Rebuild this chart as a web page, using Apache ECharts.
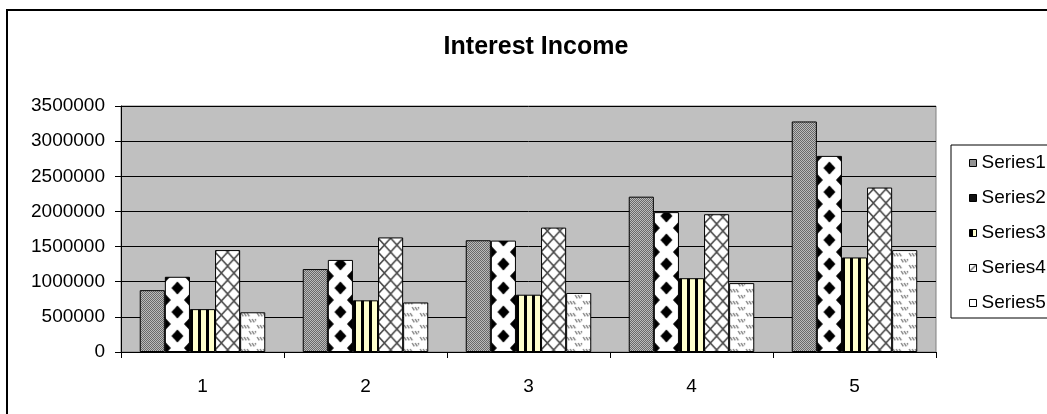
<!DOCTYPE html>
<html>
<head>
<meta charset="utf-8">
<style>
  html, body { margin: 0; padding: 0; background: #ffffff; }
  #chart { width: 1047px; height: 414px; }
</style>
<script src="https://cdn.jsdelivr.net/npm/echarts@6/dist/echarts.min.js"></script>
</head>
<body>
<div id="chart"></div>
<script>
// Interest income per period, five series
const categories = ['1', '2', '3', '4', '5'];
const seriesNames = ['Series1', 'Series2', 'Series3', 'Series4', 'Series5'];
const series1 = [880000, 1180000, 1590000, 2210000, 3280000];
const series2 = [1070000, 1310000, 1585000, 1990000, 2790000];
const series3 = [610000, 735000, 815000, 1050000, 1345000];
const series4 = [1450000, 1630000, 1770000, 1960000, 2340000];
const series5 = [565000, 705000, 840000, 980000, 1450000];
const yTicks = [0, 500000, 1000000, 1500000, 2000000, 2500000, 3000000, 3500000];

const FONT = 'Liberation Sans, Arial, sans-serif';

// Fill patterns drawn on small tiles
function tileCanvas(w, h, draw) {
  const c = document.createElement('canvas');
  c.width = w; c.height = h;
  draw(c.getContext('2d'), w, h);
  return c;
}

// fine grey dither
const tDither = tileCanvas(4, 4, (ctx) => {
  ctx.fillStyle = '#e4e4e4'; ctx.fillRect(0, 0, 4, 4);
  ctx.fillStyle = '#404040';
  for (let y = 0; y < 4; y++) for (let x = 0; x < 4; x++)
    if ((x + y) % 2 === 0) ctx.fillRect(x, y, 1, 1);
});

// black diamonds on white: one column centred, half columns on the edges
const tDiamond = tileCanvas(26, 24, (ctx, w, h) => {
  ctx.fillStyle = '#ffffff'; ctx.fillRect(0, 0, w, h);
  ctx.fillStyle = '#000000';
  const rx = 6.2, ry = 6.4;
  [[13, 0], [13, 24], [0, 12], [26, 12]].forEach(([cx, cy]) => {
    ctx.beginPath();
    ctx.moveTo(cx, cy - ry); ctx.lineTo(cx + rx, cy);
    ctx.lineTo(cx, cy + ry); ctx.lineTo(cx - rx, cy);
    ctx.closePath(); ctx.fill();
  });
});

// black vertical stripes on pale yellow
const tStripe = tileCanvas(8, 8, (ctx) => {
  ctx.fillStyle = '#ffffcc'; ctx.fillRect(0, 0, 8, 8);
  ctx.fillStyle = '#000000'; ctx.fillRect(0, 0, 3, 8);
});

// grey diagonal lattice on white
const tLattice = tileCanvas(13, 14, (ctx, w, h) => {
  ctx.fillStyle = '#ffffff'; ctx.fillRect(0, 0, w, h);
  ctx.strokeStyle = '#4a4a4a'; ctx.lineWidth = 1.6;
  ctx.beginPath();
  ctx.moveTo(0, 0); ctx.lineTo(w, h);
  ctx.moveTo(w, 0); ctx.lineTo(0, h);
  ctx.stroke();
});

// short grey dashes on white
const tDash = tileCanvas(16, 12, (ctx, w, h) => {
  ctx.fillStyle = '#ffffff'; ctx.fillRect(0, 0, w, h);
  ctx.strokeStyle = '#7a7a7a'; ctx.lineWidth = 1.3;
  ctx.beginPath();
  [[1, 1], [4, 1], [7, 1], [9, 7], [12, 7], [15, 7]].forEach(([x, y]) => {
    ctx.moveTo(x, y); ctx.lineTo(x + 2.2, y + 3.4);
  });
  ctx.stroke();
});

// single diagonal for the small legend swatch
const tSlash = tileCanvas(7, 7, (ctx, w, h) => {
  ctx.fillStyle = '#ffffff'; ctx.fillRect(0, 0, w, h);
  ctx.strokeStyle = '#444'; ctx.lineWidth = 1.2;
  ctx.beginPath(); ctx.moveTo(0, h); ctx.lineTo(w, 0); ctx.stroke();
});

const tiles = [tDither, tDiamond, tStripe, tLattice, tDash];
const values = [series1, series2, series3, series4, series5];
const pat = (img, extra) => Object.assign({ image: img, repeat: 'repeat' }, extra || {});

const legendSwatches = [
  pat(tDither),
  '#111111',
  { type: 'linear', x: 0, y: 0, x2: 1, y2: 0, colorStops: [
    { offset: 0, color: '#000' }, { offset: 0.5, color: '#000' },
    { offset: 0.5, color: '#ffffcc' }, { offset: 1, color: '#ffffcc' }] },
  pat(tSlash),
  '#ffffff'
];

const chart = echarts.init(document.getElementById('chart'), null, { renderer: 'canvas' });

chart.setOption({
  animation: false,
  backgroundColor: '#ffffff',
  title: {
    text: 'Interest Income',
    left: 531,
    textAlign: 'center',
    top: 30,
    textStyle: { fontFamily: FONT, fontSize: 25, fontWeight: 'bold', color: '#000' }
  },
  legend: {
    orient: 'vertical',
    left: 951,
    top: 145,
    width: 120,
    padding: [8, 40, 5, 18],
    itemGap: 15,
    itemWidth: 7,
    itemHeight: 7,
    icon: 'rect',
    borderColor: '#000',
    borderWidth: 1,
    backgroundColor: '#ffffff',
    textStyle: { fontFamily: FONT, fontSize: 19, color: '#000', lineHeight: 20 },
    data: seriesNames.map((n, i) => ({ name: n, itemStyle: { color: legendSwatches[i], borderColor: '#000', borderWidth: 1 } }))
  },
  grid: {
    left: 121, right: 111, top: 106, bottom: 62,
    show: true,
    backgroundColor: '#c0c0c0',
    borderColor: '#808080',
    borderWidth: 1
  },
  xAxis: {
    type: 'category',
    data: categories,
    boundaryGap: true,
    axisLine: { lineStyle: { color: '#000', width: 1 } },
    axisTick: { show: true, alignWithLabel: false, length: 6, lineStyle: { color: '#000' } },
    axisLabel: { margin: 25, fontFamily: FONT, fontSize: 19, color: '#000' },
    splitLine: { show: false }
  },
  yAxis: {
    type: 'value',
    min: yTicks[0],
    max: yTicks[yTicks.length - 1],
    interval: yTicks[1] - yTicks[0],
    axisLine: { show: true, lineStyle: { color: '#000', width: 1 } },
    axisTick: { show: true, length: 6, lineStyle: { color: '#000' } },
    axisLabel: { margin: 16, fontFamily: FONT, fontSize: 19, color: '#000', formatter: (v) => String(v) },
    splitLine: { show: true, lineStyle: { color: '#000', width: 1 } }
  },
  graphic: [{
    type: 'rect',
    shape: { x: 7, y: 10, width: 1100, height: 420 },
    style: { fill: null, stroke: '#000', lineWidth: 2 },
    z: 100,
    silent: true
  }],
  series: values.map((data, i) => ({
    name: seriesNames[i],
    type: 'bar',
    data: data,
    barGap: '0%',
    barCategoryGap: '23%',
    itemStyle: { color: pat(tiles[i]), borderColor: '#000', borderWidth: 1 }
  }))
});

// Anchor each bar's pattern to the bar's own left edge so columns line up
try {
  const model = chart.getModel();
  const update = values.map((data, i) => {
    const d = model.getSeriesByIndex(i).getData();
    return {
      data: data.map((v, j) => {
        const lay = d.getItemLayout(j);
        const w = lay.width;
        let extra = { x: lay.x };
        if (i === 1 || i === 3) extra = { x: lay.x, scaleX: w / 26 };
        return { value: v, itemStyle: { color: pat(tiles[i], extra) } };
      })
    };
  });
  chart.setOption({ series: update });
} catch (e) { /* keep default anchoring */ }
</script>
</body>
</html>
